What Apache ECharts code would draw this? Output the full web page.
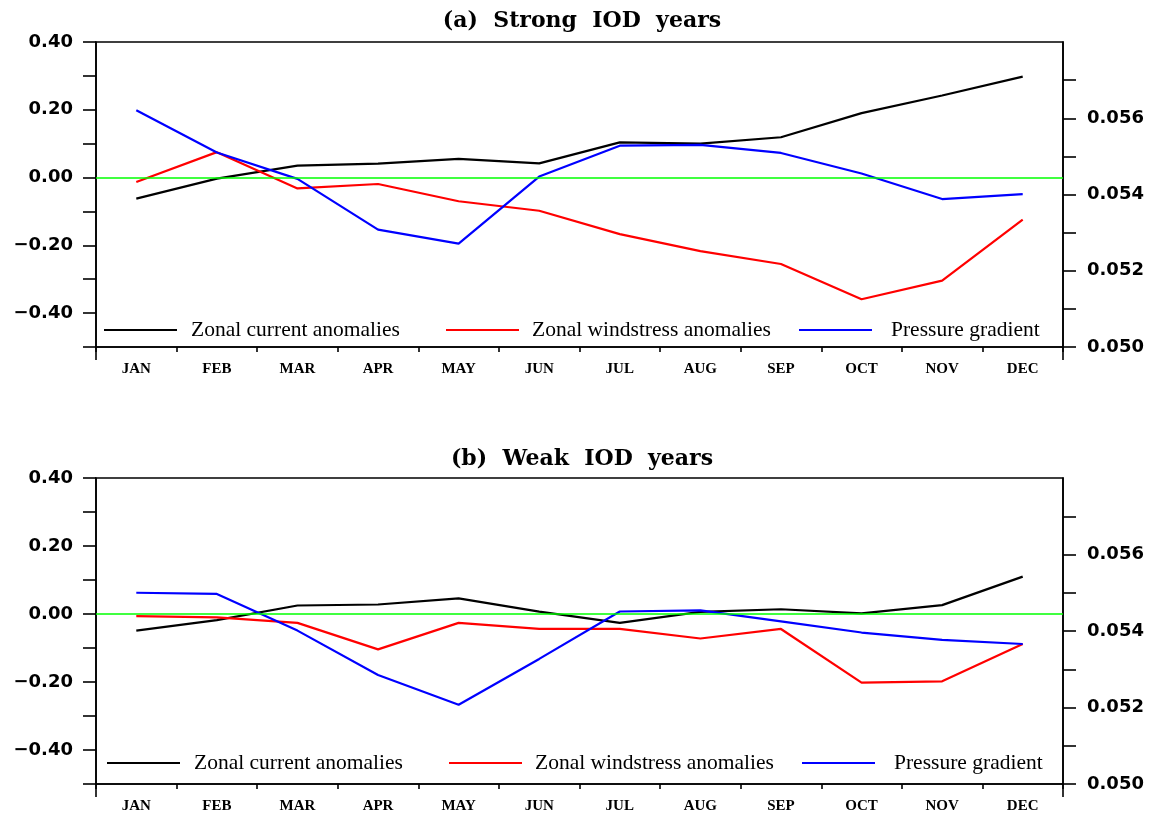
<!DOCTYPE html>
<html>
<head>
<meta charset="utf-8">
<script src="https://cdn.jsdelivr.net/npm/echarts@6/dist/echarts.min.js"></script>
<style>html,body{margin:0;padding:0;background:#fff;}#c{width:1153px;height:819px;}</style>
</head>
<body>
<div id="c"></div>
<script>
const months = ['JAN','FEB','MAR','APR','MAY','JUN','JUL','AUG','SEP','OCT','NOV','DEC'];
const titles = ['(a)  Strong  IOD  years', '(b)  Weak  IOD  years'];
const seriesNames = ['Zonal current anomalies', 'Zonal windstress anomalies', 'Pressure gradient'];

// (a) Strong IOD years
const strongCurrent  = [-0.062, -0.003, 0.035, 0.041, 0.055, 0.042, 0.104, 0.100, 0.119, 0.190, 0.242, 0.298];
const strongWind     = [-0.013, 0.075, -0.032, -0.019, -0.070, -0.098, -0.167, -0.217, -0.255, -0.359, -0.304, -0.124];
const strongPressure = [0.05621, 0.05510, 0.05441, 0.05308, 0.05271, 0.05447, 0.05528, 0.05530, 0.05509, 0.05455, 0.05388, 0.05401];

// (b) Weak IOD years
const weakCurrent  = [-0.049, -0.018, 0.025, 0.028, 0.046, 0.007, -0.026, 0.006, 0.014, 0.002, 0.026, 0.110];
const weakWind     = [-0.006, -0.010, -0.026, -0.104, -0.026, -0.044, -0.044, -0.072, -0.044, -0.202, -0.198, -0.088];
const weakPressure = [0.05500, 0.05497, 0.05401, 0.05285, 0.05207, 0.05327, 0.05451, 0.05454, 0.05425, 0.05396, 0.05377, 0.05366];

const leftMin = -0.5, leftMax = 0.4, leftStep = 0.1;
const rightMin = 0.050, rightMax = 0.058, rightStep = 0.001;
const rightTickValues = [0.050, 0.051, 0.052, 0.053, 0.054, 0.055, 0.056, 0.057];
const rightLabelValues = [0.050, 0.052, 0.054, 0.056];

const colors = ['#000000', '#ff0000', '#0000ff'];
const GRID_LEFT = 96, GRID_WIDTH = 967;
const grids = [{top: 42, height: 305}, {top: 478, height: 306}];
const legendTops = [319, 752];
const legendLefts = [[104, 446, 799], [107, 449, 802]];
const legendPads = [9, 8, 14];

const chart = echarts.init(document.getElementById('c'), null, {renderer: 'canvas'});

const leftFmt = v => {
  const k = Math.round(v * 10);
  if (k % 2 !== 0) return '';
  return (k < 0 ? '\u2212' : '') + Math.abs(v).toFixed(2);
};
const rightFmt = v => {
  const k = Math.round(v * 1000);
  if (k % 2 !== 0 || k === 58) return '';
  return v.toFixed(3);
};

const axisLine = {show: true, onZero: false, lineStyle: {color: '#000', width: 1.6}};
const option = {
  animation: false,
  backgroundColor: '#fff',
  title: titles.map((t, i) => ({
    text: t, left: 577, top: i === 0 ? 5 : 443, textAlign: 'center',
    textStyle: {fontFamily: 'DejaVu Serif', fontWeight: 'bold', fontSize: 22, color: '#000'}
  })),
  grid: grids.map(g => ({left: GRID_LEFT, width: GRID_WIDTH, top: g.top, height: g.height,
    show: true, borderColor: '#000', borderWidth: 1.6, backgroundColor: 'transparent'})),
  legend: [],
  xAxis: [0, 1].map(i => ({
    type: 'category', gridIndex: i, data: months, boundaryGap: true, position: 'bottom',
    axisLine: axisLine,
    axisTick: {show: true, inside: false, length: 5, alignWithLabel: false, lineStyle: {color: '#000', width: 1.6}},
    axisLabel: {margin: 15, color: '#000', fontFamily: 'Liberation Serif', fontWeight: 'bold', fontSize: 15},
    splitLine: {show: false}
  })),
  yAxis: [],
  series: []
};

[0, 1].forEach(i => {
  option.yAxis.push({
    type: 'value', gridIndex: i, position: 'left', min: leftMin, max: leftMax, interval: leftStep,
    axisLine: axisLine,
    axisTick: {show: true, inside: false, length: 13, lineStyle: {color: '#000', width: 1.6}},
    axisLabel: {margin: 23, color: '#000', fontFamily: 'DejaVu Sans', fontWeight: 'bold', fontSize: 18, formatter: leftFmt},
    splitLine: {show: false}
  });
  option.yAxis.push({
    type: 'value', gridIndex: i, position: 'right', min: rightMin, max: rightMax, interval: rightStep,
    axisLine: axisLine,
    axisTick: {show: true, inside: false, length: 13, lineStyle: {color: '#000', width: 1.6}, customValues: rightTickValues},
    axisLabel: {margin: 24, color: '#000', fontFamily: 'DejaVu Sans', fontWeight: 'bold', fontSize: 18, formatter: rightFmt, customValues: rightLabelValues},
    splitLine: {show: false}
  });
});

const panelData = [[strongCurrent, strongWind, strongPressure], [weakCurrent, weakWind, weakPressure]];
panelData.forEach((arrs, i) => {
  arrs.forEach((d, s) => {
    const ser = {
      type: 'line', name: seriesNames[s], xAxisIndex: i, yAxisIndex: s === 2 ? 2 * i + 1 : 2 * i,
      data: d, symbol: 'none', showSymbol: false, silent: true,
      lineStyle: {color: colors[s], width: 2.2}, itemStyle: {color: colors[s]}
    };
    if (s === 0) {
      ser.markLine = {silent: true, symbol: 'none', label: {show: false},
        lineStyle: {color: '#00ff00', width: 1.6, type: 'solid'}, data: [{yAxis: 0}]};
    }
    option.series.push(ser);
  });
  seriesNames.forEach((n, s) => {
    option.legend.push({
      data: [n], left: legendLefts[i][s], top: legendTops[i], padding: 0, selectedMode: false,
      icon: 'rect', itemWidth: 73, itemHeight: 2,
      textStyle: {fontFamily: 'Liberation Serif', fontSize: 21.5, color: '#000', padding: [0, 0, 0, legendPads[s]]}
    });
  });
});

// axis line extensions below each panel (NCL style), from layout constants
option.graphic = [];
grids.forEach(g => {
  const yb = g.top + g.height;
  [GRID_LEFT, GRID_LEFT + GRID_WIDTH].forEach(x => {
    option.graphic.push({type: 'line', silent: true,
      shape: {x1: x, y1: yb, x2: x, y2: yb + 13}, style: {stroke: '#000', lineWidth: 1.6}});
  });
});

chart.setOption(option);
</script>
</body>
</html>
